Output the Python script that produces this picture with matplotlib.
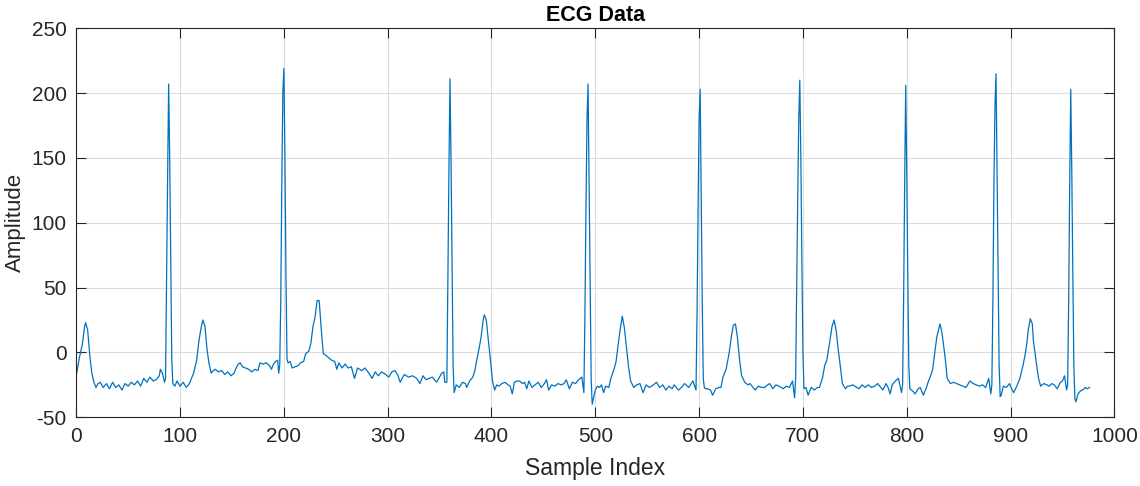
import numpy as np
import matplotlib
matplotlib.use("Agg")
import matplotlib.pyplot as plt

### Data (sample index, amplitude)
sample_idx = [
    0, 3, 6, 8, 9, 11, 13, 15, 17, 19, 21, 23, 26, 29, 32, 35, 38, 41, 44, 47,
    50, 53, 56, 59, 62, 65, 68, 71, 74, 77, 80, 81, 83, 85, 86, 87, 88, 89, 90, 91,
    92, 93, 95, 97, 100, 103, 106, 109, 111, 113, 116, 118, 120, 122, 124,
    126, 128, 130, 132, 134, 137, 140, 143, 146, 149, 152, 154, 156, 158, 160, 163, 166,
    169, 172, 175, 177, 180, 183, 186, 188, 190, 192, 194, 195, 196, 197, 198, 199, 200,
    201, 202, 203, 204, 206, 208, 211, 214, 216, 219, 221, 224, 226, 228, 230, 232, 234,
    236, 238, 240, 243, 246, 249,
    251, 253, 256, 259, 262, 265, 268, 271, 275, 278, 281, 285, 288, 291, 294, 298, 301,
    304, 307, 310, 312, 316, 320, 324, 328, 331, 334, 337, 340, 343, 347, 350, 352, 354,
    355, 357, 358, 359, 360, 361, 362, 363, 364, 366, 369, 372,
    375, 376, 379, 382, 384, 386, 388, 390, 392, 393, 395, 397, 399, 401, 403, 405, 407,
    410, 413, 416, 418, 420, 422, 425, 427, 430, 432, 434, 436, 439, 442, 445, 448, 451,
    453, 455, 458, 461, 464, 467, 470, 472, 475, 478, 481, 484, 487, 489, 490, 491, 492,
    493, 494, 495, 496, 497, 500,
    502, 504, 506, 508, 510, 513, 515, 518, 520, 522, 524, 526, 528, 530, 532, 534, 537,
    540, 543, 546, 549, 552, 556, 559, 562, 565, 568, 571, 574, 576, 580, 583, 586, 590,
    594, 597, 598, 599, 600, 601, 602, 603, 604, 605, 606, 608, 611, 613, 616, 619, 621, 623,
    626, 629, 631, 633, 635, 637, 639, 641, 644, 647, 649, 652, 654, 657, 660, 663, 666,
    668, 671, 674, 677, 681, 684, 687, 690, 692, 693, 694, 695, 696, 697, 698, 699, 700,
    701, 703, 705, 708, 711, 714, 716, 719, 721, 723, 726, 728, 730, 732, 734, 735, 738,
    741, 743, 745, 748, 750,
    752, 754, 757, 760, 763, 766, 769, 772, 775, 777, 780, 782, 784, 786, 789, 792, 795,
    796, 797, 798, 799, 800, 801, 802, 803, 806, 808, 811, 813, 816, 819, 821, 823, 825,
    827, 829, 832, 834, 837, 839, 842, 845, 848, 851, 854, 857, 861, 864, 867, 870, 873,
    876, 879, 881, 882, 883, 884, 885, 886, 887, 888, 889, 890, 891, 893, 896, 899, 901,
    903, 906, 909, 912, 914, 916, 917, 919, 921, 922, 925, 927, 929, 932, 935, 937, 940,
    942, 945, 948, 950, 952, 954, 955, 956, 957, 958, 959, 960, 961, 962, 963, 965, 967,
    969, 971, 972, 974, 976,
]
amplitude = [
    -18, -4, 7, 20, 23, 17, -2, -16, -23, -27, -24, -23, -27, -24, -28, -23, -27, -25, -29, -24,
    -26, -23, -25, -22, -26, -20, -23, -19, -22, -21, -18, -13, -16, -23, -20, 60, 135, 207, 150, 70,
    -5, -24, -26, -22, -26, -23, -27, -24, -20, -16, -6, 8, 18, 25, 20,
    2, -9, -16, -14, -13, -15, -14, -17, -15, -18, -16, -12, -9, -8, -11, -12, -13,
    -15, -13, -14, -8, -9, -8, -10, -13, -9, -7, -6, -16, -10, 40, 130, 200, 219,
    150, 60, -5, -8, -7, -12, -11, -10, -8, -7, -1, 1, 7, 20, 27, 40, 40,
    18, -1, -2, -4, -6, -7,
    -13, -8, -12, -9, -12, -11, -20, -12, -14, -12, -15, -20, -15, -18, -15, -17, -19,
    -15, -14, -18, -23, -17, -19, -18, -20, -24, -18, -21, -20, -19, -23, -19, -16, -15,
    -23, -23, 60, 140, 211, 150, 70, -10, -31, -25, -27, -23,
    -24, -27, -22, -19, -14, -5, 3, 12, 25, 29, 25, 9, -6, -22, -29, -25, -26,
    -24, -23, -25, -26, -32, -23, -22, -22, -24, -23, -28, -22, -27, -25, -23, -27, -24,
    -21, -29, -25, -26, -24, -25, -24, -21, -28, -23, -24, -21, -19, -31, 30, 110, 180,
    207, 130, 50, -20, -40, -29,
    -26, -27, -25, -31, -26, -27, -20, -13, -7, 6, 18, 28, 19, 4, -11, -22, -27,
    -25, -24, -31, -25, -27, -25, -23, -27, -25, -29, -26, -28, -25, -29, -27, -24, -27,
    -22, -29, 30, 110, 180, 203, 120, 40, -20, -27, -28, -28, -29, -33, -28, -27, -27, -19,
    -13, 0, 12, 21, 22, 11, -6, -18, -23, -25, -24, -27, -29, -26, -27, -27, -25,
    -24, -28, -25, -26, -28, -26, -27, -22, -35, -20, 50, 120, 180, 210, 150, 70, 0,
    -28, -27, -33, -27, -29, -27, -27, -19, -10, -6, 9, 20, 25, 17, 2, -4, -24,
    -28, -26, -26, -25, -26,
    -27, -28, -25, -27, -25, -27, -26, -24, -27, -29, -24, -27, -32, -25, -22, -20, -31,
    -25, 40, 130, 206, 140, 60, -10, -28, -30, -32, -28, -27, -33, -27, -22, -18, -13,
    0, 12, 22, 15, -4, -20, -24, -23, -24, -25, -26, -27, -22, -24, -25, -26, -25,
    -27, -20, -32, -25, 40, 130, 190, 215, 140, 60, -10, -34, -33, -26, -27, -24, -28,
    -31, -26, -20, -10, -2, 9, 17, 26, 22, 9, -9, -20, -26, -24, -25, -26, -24,
    -25, -28, -23, -22, -18, -29, -25, 40, 130, 203, 140, 60, -10, -36, -38, -32, -30,
    -29, -28, -27, -28, -27,
]

x_ticks = [0, 100, 200, 300, 400, 500, 600, 700, 800, 900, 1000]
y_ticks = [-50, 0, 50, 100, 150, 200, 250]

plt.rcParams['font.family'] = ['Liberation Sans', 'DejaVu Sans']
plt.rcParams['axes.unicode_minus'] = False

fig = plt.figure(figsize=(11.4, 4.86), dpi=100)
ax = fig.add_axes([0.0669, 0.1414, 0.9106, 0.8004])

ax.plot(sample_idx, amplitude, color='#0072BD', linewidth=0.9)

ax.set_xlim(0, 1000)
ax.set_ylim(-50, 250)
ax.set_xticks(x_ticks)
ax.set_yticks(y_ticks)
ax.grid(True, color='#dcdcdc', linewidth=0.8)
ax.set_axisbelow(True)

ax.tick_params(direction='in', length=7, width=0.8, top=True, right=True,
               labelsize=15, colors='#262626', pad=7)
for s in ax.spines.values():
    s.set_color('#262626')
    s.set_linewidth(0.8)

ax.set_xlabel('Sample Index', fontsize=16.5, color='#262626', labelpad=8)
ax.set_ylabel('Amplitude', fontsize=16, color='#262626', labelpad=4)
ax.set_title('ECG Data', fontsize=15.5, fontweight='bold', color='black', pad=5)

fig.savefig('out.png', dpi=100)
